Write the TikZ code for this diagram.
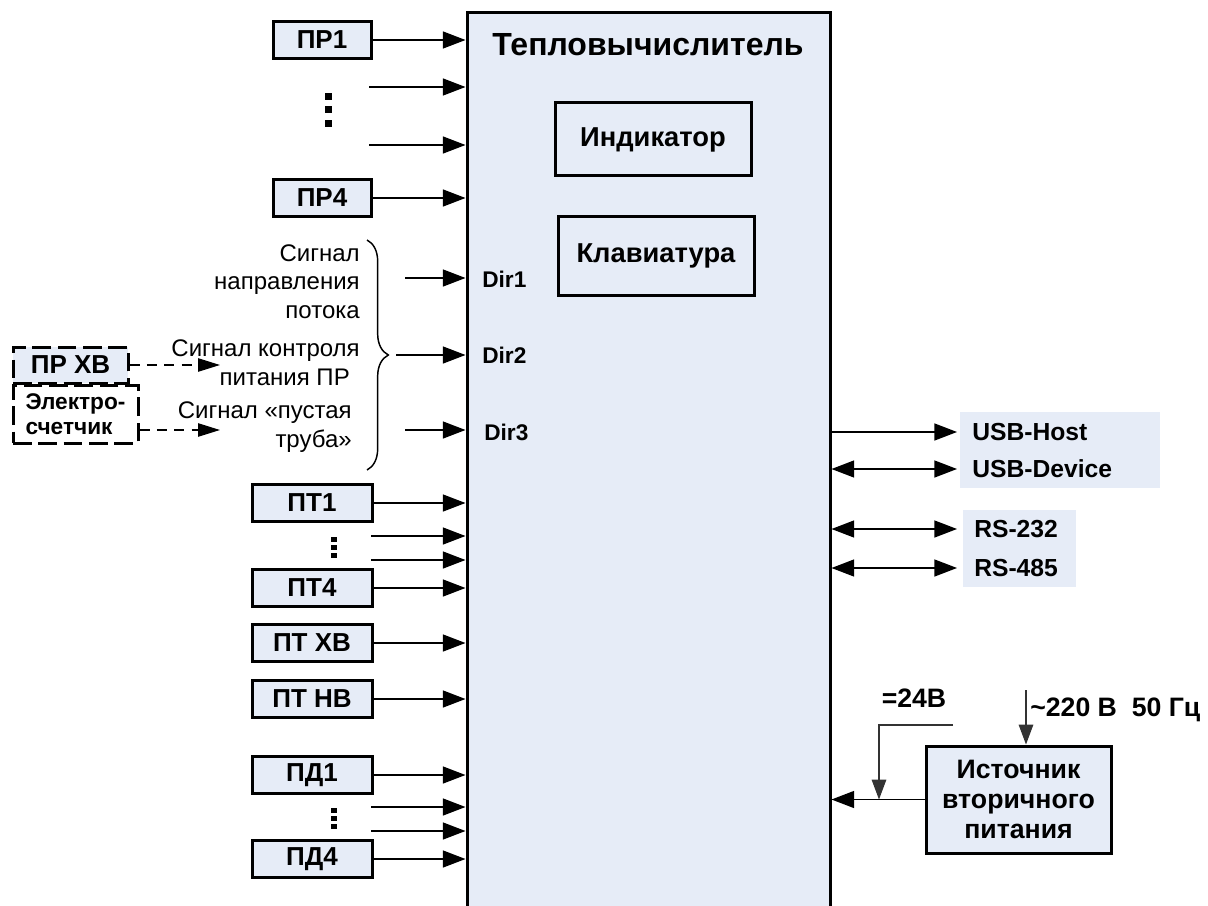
\documentclass[tikz,border=0pt]{standalone}
\usepackage{fontspec}
\setmainfont{Liberation Sans}
\usetikzlibrary{arrows.meta,decorations.pathreplacing}
\definecolor{blk}{RGB}{230,236,247}
\tikzset{
  tri/.tip={Triangle[length=17pt,width=12.75pt]},
  trislim/.tip={Triangle[length=16.5pt,width=10pt]},
  trismall/.tip={Triangle[length=15pt,width=11pt]},
  mainbox/.style={draw, fill=blk, line width=2.25pt, inner sep=0pt},
  ttl/.style={inner sep=0pt, font=\bfseries\fontsize{24}{28}\selectfont},
  unit/.style={draw, line width=2.25pt, inner sep=0pt, font=\bfseries\fontsize{20.5}{24}\selectfont},
  sensor/.style={draw, fill=blk, line width=2.25pt, minimum width=73.5pt, minimum height=27.75pt, inner sep=0pt, font=\bfseries\fontsize{19.5}{22}\selectfont},
  dashbox/.style={dash pattern=on 14pt off 5pt},
  sigtxt/.style={inner sep=0pt, align=right, font=\fontsize{18}{21.5}\selectfont},
  dirtxt/.style={inner sep=0pt, font=\bfseries\fontsize{17}{20}\selectfont},
  iftxt/.style={inner sep=0pt, font=\bfseries\fontsize{18.5}{21}\selectfont},
  lbl/.style={inner sep=0pt, font=\bfseries\fontsize{20}{23}\selectfont},
  grp/.style={fill=blk, inner sep=0pt},
  srcbox/.style={draw, fill=blk, line width=2.25pt, minimum width=138.75pt, minimum height=80.25pt, inner sep=0pt, align=center, font=\bfseries\fontsize{20}{22.5}\selectfont},
  sig/.style={line width=1.1pt, -tri},
  bisig/.style={line width=1.1pt, tri-tri},
  dsig/.style={line width=1.1pt, dash pattern=on 7.5pt off 5.5pt, -trislim},
  feed/.style={line width=0.8pt, black!80, -trismall},
  brc/.style={line width=1.1pt, decorate, decoration={brace, amplitude=16pt}}
}
\begin{document}
\begin{tikzpicture}[x=0.75pt,y=-0.75pt]
        \useasboundingbox (0,0) rectangle (1208,906);
        \clip (0,0) rectangle (1208,906);

        % heat calculator
        \node[mainbox, minimum width=272.25pt, minimum height=700pt] (tv) at (648.5,479) {};
        \node[ttl] (title) at (648,45) {Тепловычислитель};
        \node[unit, minimum width=147pt, minimum height=54.75pt] (ind) at (653,139.5) {Индикатор};
        \node[unit, minimum width=147pt, minimum height=59.25pt] (kbd) at (656,255.5) {Клавиатура};

        % flow meters
        \node[sensor] (pr1) at (322,40) {ПР1};
        \node[sensor] (pr4) at (322,198) {ПР4};
        \coordinate (pr2) at (369,87);
        \coordinate (pr3) at (369,145);
        \draw[sig] (pr1.east) -- (pr1 -| tv.west);
        \draw[sig] (pr2) -- (pr2 -| tv.west);
        \draw[sig] (pr3) -- (pr3 -| tv.west);
        \draw[sig] (pr4.east) -- (pr4 -| tv.west);
        \fill[black] (325,93) rectangle (332,100);
        \fill[black] (325,106) rectangle (332,113);
        \fill[black] (325,120) rectangle (332,127);

        % direction inputs
        \node[sigtxt, anchor=east] (s1) at (360,281.5) {Сигнал\\направления\\потока};
        \node[sigtxt, anchor=east] (s2) at (360,362.5) {Сигнал контроля\\питания ПР\hspace*{7.5pt}};
        \node[sigtxt, anchor=east] (s3) at (352,427) {Сигнал «пустая\\труба»};
        \draw[brc] (367,240) -- (367,470);
        \coordinate (d1) at (405,278);
        \coordinate (d2) at (396,355);
        \coordinate (d3) at (405,430);
        \draw[sig] (d1) -- (d1 -| tv.west);
        \draw[sig] (d2) -- (d2 -| tv.west);
        \draw[sig] (d3) -- (d3 -| tv.west);
        \node[dirtxt, anchor=west] (dir1) at (482,279) {Dir1};
        \node[dirtxt, anchor=west] (dir2) at (482,355) {Dir2};
        \node[dirtxt, anchor=west] (dir3) at (484,432) {Dir3};

        \node[sensor, dashbox, minimum width=86.25pt, minimum height=27pt] (prxv) at (70.5,365) {ПР ХВ};
        \node[sensor, dashbox, fill=none, align=left, minimum width=93.75pt, minimum height=43.5pt, font=\bfseries\fontsize{17}{19}\selectfont] (elc) at (75.5,414) {Электро-\\счетчик};
        \coordinate (x2) at (220,365);
        \coordinate (x3) at (220,430);
        \draw[dsig] (prxv.east) -- (x2);
        \draw[dsig] (elc.east |- x3) -- (x3);

        % temperature and pressure sensors
        \node[sensor, minimum width=90pt] (pt1) at (312,503) {ПТ1};
        \node[sensor, minimum width=90pt] (pt4) at (312,588) {ПТ4};
        \node[sensor, minimum width=90pt] (ptxv) at (312,643) {ПТ ХВ};
        \node[sensor, minimum width=90pt] (ptnv) at (312,699) {ПТ НВ};
        \node[sensor, minimum width=90pt] (pd1) at (312,775) {ПД1};
        \node[sensor, minimum width=90pt] (pd4) at (312,859) {ПД4};
        \coordinate (pt2) at (371,536);
        \coordinate (pt3) at (371,560);
        \coordinate (pd2) at (371,807);
        \coordinate (pd3) at (371,831);
        \draw[sig] (pt1.east) -- (pt1 -| tv.west);
        \draw[sig] (pt2) -- (pt2 -| tv.west);
        \draw[sig] (pt3) -- (pt3 -| tv.west);
        \draw[sig] (pt4.east) -- (pt4 -| tv.west);
        \draw[sig] (ptxv.east) -- (ptxv -| tv.west);
        \draw[sig] (ptnv.east) -- (ptnv -| tv.west);
        \draw[sig] (pd1.east) -- (pd1 -| tv.west);
        \draw[sig] (pd2) -- (pd2 -| tv.west);
        \draw[sig] (pd3) -- (pd3 -| tv.west);
        \draw[sig] (pd4.east) -- (pd4 -| tv.west);
        \fill[black] (331,537) rectangle (337,542);
        \fill[black] (331,545) rectangle (337,550);
        \fill[black] (331,553) rectangle (337,558);
        \fill[black] (331,808) rectangle (337,813);
        \fill[black] (331,816) rectangle (337,821);
        \fill[black] (331,824) rectangle (337,829);

        % interfaces
        \coordinate (ifx) at (957,0);
        \node[grp, minimum width=150pt, minimum height=57pt] (usbg) at (1060,450) {};
        \node[grp, minimum width=84.75pt, minimum height=57.75pt] (rsg) at (1019.5,548.5) {};
        \node[iftxt, anchor=west] (usbh) at (972,432) {USB-Host};
        \node[iftxt, anchor=west] (usbd) at (972,469) {USB-Device};
        \node[iftxt, anchor=west] (rs2) at (974,529) {RS-232};
        \node[iftxt, anchor=west] (rs4) at (974,568) {RS-485};
        \draw[sig] (usbh -| tv.east) -- (usbh -| ifx);
        \draw[bisig] (usbd -| tv.east) -- (usbd -| ifx);
        \draw[bisig] (rs2 -| tv.east) -- (rs2 -| ifx);
        \draw[bisig] (rs4 -| tv.east) -- (rs4 -| ifx);

        % power supply
        \node[srcbox] (src) at (1018.5,799.5) {Источник\\вторичного\\питания};
        \draw[sig] (src.west) -- (src.west -| tv.east);
        \coordinate (u24) at (953,725);
        \coordinate (x24) at (879,0);
        \coordinate (j24) at (x24 |- src.west);
        \draw[feed] (u24) -| (j24);
        \node[lbl] (v24) at (914,698) {=24В};
        \coordinate (ac) at (1026,690);
        \draw[feed] (ac) -- (ac |- src.north);
        \node[lbl, anchor=west] (v220) at (1030,710) {\textasciitilde220 В\ \ 50 Гц};
    \end{tikzpicture}
\end{document}
